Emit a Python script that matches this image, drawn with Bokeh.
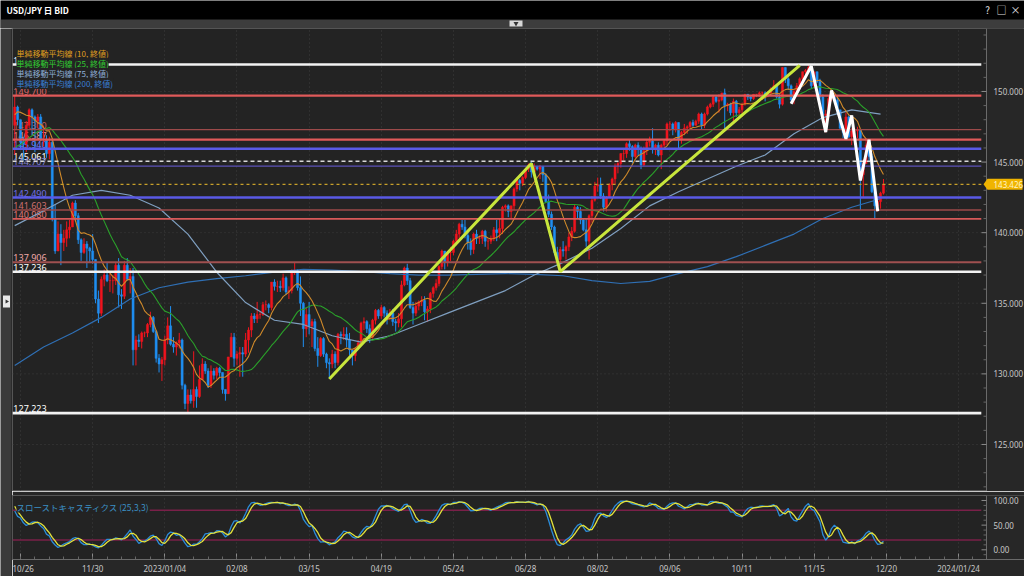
import numpy as np
import pandas as pd
from bokeh.plotting import figure
from bokeh.models import (ColumnDataSource, Range1d, FixedTicker, Label, Grid)
from bokeh.layouts import column, row
from bokeh.embed import file_html
from bokeh.resources import INLINE
from bokeh.core.properties import value

# ---------------- data ----------------
FIRST_DAY = "2022-10-24"
LAST_DAY = "2023-12-19"

# warm-up bars for the indicators (2022-09-07 .. 2022-10-21)
pre_close = [144.0, 144.1, 142.6,
             142.8, 144.6, 143.2, 143.5, 142.9,
             143.2, 143.7, 144.1, 142.4, 143.3,
             144.7, 144.8, 144.2, 144.4, 144.7,
             144.8, 144.1, 144.6, 145.1, 145.3,
             145.7, 145.8, 146.9, 147.2, 148.7,
             149.0, 149.3, 149.9, 150.2, 147.6]
pre_high = [145.0, 144.5, 144.2,
            143.1, 144.9, 144.6, 143.9, 143.6,
            143.6, 143.9, 144.7, 145.9, 143.5,
            144.8, 144.9, 144.9, 144.6, 144.8,
            145.0, 145.0, 144.8, 145.4, 145.4,
            145.9, 146.0, 146.9, 147.7, 148.9,
            149.1, 149.4, 150.0, 150.3, 151.9]
pre_low = [143.4, 143.6, 142.0,
           141.5, 142.6, 142.6, 143.1, 142.6,
           142.7, 143.1, 143.7, 140.3, 141.7,
           143.3, 144.1, 143.9, 143.9, 144.3,
           144.4, 143.5, 143.9, 144.5, 144.8,
           145.2, 145.5, 145.8, 146.2, 147.1,
           148.4, 148.8, 149.1, 149.8, 146.2]

# daily bars, one row per week (Mon..Fri), 2022-10-24 .. 2023-12-19
close = [
    148.9, 148.0, 146.4, 146.3, 147.6,
    148.7, 148.2, 147.9, 148.2, 146.6,
    146.6, 145.6, 146.4, 141.0, 138.7,
    139.9, 139.3, 139.6, 140.2, 140.4,
    142.1, 141.2, 139.5, 138.6, 139.2,
    138.9, 138.7, 138.1, 135.3, 134.3,
    136.7, 137.0, 136.6, 136.6, 136.6,
    137.7, 135.6, 135.5, 137.7, 136.7,
    136.9, 131.7, 132.4, 132.3, 132.9,
    132.9, 133.5, 134.0, 133.0, 131.1,
    130.7, 131.0, 132.4, 133.4, 132.1,
    131.9, 132.2, 132.4, 129.2, 127.9,
    128.5, 128.1, 128.9, 128.4, 129.6,
    130.7, 130.2, 129.2, 130.2, 129.9,
    130.4, 130.1, 128.9, 128.6, 131.2,
    132.6, 131.1, 131.4, 131.5, 131.4,
    132.4, 133.1, 134.1, 133.9, 134.2,
    134.2, 134.9, 134.9, 134.7, 136.5,
    136.2, 136.2, 136.1, 136.8, 135.8,
    135.9, 137.2, 137.3, 136.1, 135.0,
    133.2, 134.2, 133.4, 133.7, 131.8,
    131.3, 132.5, 131.4, 130.8, 130.7,
    131.4, 130.8, 132.8, 132.7, 132.8,
    132.4, 131.7, 131.3, 131.8, 132.2,
    133.6, 133.7, 133.2, 132.6, 133.8,
    134.5, 134.1, 134.7, 134.3, 134.1,
    134.3, 133.7, 133.6, 133.9, 136.3,
    137.5, 136.6, 134.7, 134.3, 134.8,
    135.1, 135.2, 134.4, 134.6, 135.7,
    136.1, 136.4, 137.6, 138.7, 137.9,
    138.6, 138.6, 139.4, 139.9, 140.6,
    140.4, 139.8, 139.3, 138.8, 139.9,
    139.6, 139.6, 140.1, 139.4, 139.4,
    139.6, 140.2, 140.0, 140.3, 141.8,
    141.9, 141.5, 141.9, 143.1, 143.7,
    143.5, 143.9, 144.5, 144.8, 144.3,
    144.7, 144.5, 144.7, 144.1, 142.2,
    141.3, 140.4, 138.6, 138.1, 138.8,
    138.7, 139.0, 139.7, 140.1, 141.8,
    141.5, 140.9, 140.2, 139.4, 141.2,
    142.3, 143.3, 143.4, 142.6, 141.8,
    142.5, 143.4, 143.8, 144.7, 144.9,
    145.6, 145.6, 146.3, 146.1, 145.4,
    146.2, 145.9, 144.8, 145.8, 146.4,
    146.5, 145.9, 146.2, 145.5, 146.2,
    146.5, 147.7, 147.7, 147.3, 147.8,
    146.6, 147.1, 147.4, 147.5, 147.8,
    147.6, 147.9, 148.4, 147.6, 148.4,
    148.9, 149.1, 149.6, 149.3, 149.4,
    149.9, 149.0, 149.1, 148.5, 149.3,
    148.5, 148.7, 149.1, 149.8, 149.6,
    149.5, 149.8, 149.8, 149.9, 149.9,
    149.7, 149.9, 150.2, 150.4, 149.6,
    149.1, 151.7, 150.9, 150.4, 149.4,
    150.0, 150.4, 150.9, 151.4, 151.5,
    151.7, 150.4, 151.4, 150.7, 149.6,
    148.3, 148.4, 149.5, 149.6, 149.4,
    148.7, 147.4, 147.1, 148.2, 146.8,
    147.2, 147.2, 147.3, 144.1, 144.9,
    146.2, 145.4, 142.9, 141.9, 142.2,
    142.8, 143.426]
high = [
    149.7, 149.0, 148.0, 146.8, 147.9,
    148.8, 148.8, 148.3, 148.4, 148.4,
    147.6, 146.9, 146.8, 146.6, 142.0,
    140.8, 140.6, 140.2, 140.8, 140.9,
    142.2, 142.3, 141.4, 139.6, 139.6,
    139.4, 139.0, 139.9, 138.1, 135.9,
    136.9, 137.4, 137.9, 137.1, 137.0,
    137.9, 138.2, 136.0, 138.0, 138.2,
    137.5, 137.5, 132.7, 132.8, 133.0,
    133.0, 133.6, 134.4, 134.1, 133.1,
    131.4, 131.2, 132.7, 134.0, 134.8,
    132.6, 132.3, 132.9, 132.5, 129.3,
    128.9, 128.9, 131.6, 129.1, 130.6,
    131.1, 130.9, 130.4, 130.6, 130.4,
    130.5, 130.5, 130.1, 128.9, 131.2,
    132.9, 132.9, 131.6, 131.9, 131.9,
    132.9, 133.3, 134.3, 134.3, 135.1,
    134.4, 135.1, 135.2, 135.0, 136.5,
    136.7, 136.6, 136.6, 137.1, 136.9,
    136.2, 137.4, 137.9, 137.4, 136.9,
    135.1, 134.7, 135.1, 133.9, 133.9,
    132.6, 132.6, 132.6, 131.5, 131.1,
    131.7, 131.6, 132.9, 133.0, 133.3,
    133.3, 132.9, 131.7, 131.9, 132.4,
    133.7, 134.0, 133.8, 133.5, 133.9,
    134.6, 134.6, 134.9, 134.8, 134.5,
    134.6, 134.6, 133.9, 134.3, 136.6,
    137.6, 137.8, 136.8, 135.1, 135.1,
    135.2, 135.5, 135.5, 134.8, 135.8,
    136.2, 136.7, 137.7, 138.8, 138.7,
    138.7, 139.0, 139.5, 140.2, 140.7,
    140.9, 140.9, 140.1, 139.6, 140.0,
    140.2, 139.8, 140.2, 140.2, 139.6,
    139.8, 140.4, 140.9, 141.0, 141.9,
    142.0, 142.0, 141.9, 143.2, 143.9,
    143.8, 144.0, 144.6, 144.9, 145.1,
    144.9, 144.7, 144.8, 144.7, 144.2,
    142.7, 141.5, 140.5, 139.0, 139.0,
    139.4, 139.1, 140.0, 140.4, 142.0,
    141.9, 141.8, 141.0, 141.0, 141.3,
    142.6, 143.6, 143.9, 143.9, 142.8,
    142.6, 143.5, 143.9, 144.9, 145.0,
    145.6, 145.9, 146.4, 146.6, 146.2,
    146.3, 146.4, 146.1, 146.1, 146.6,
    146.8, 147.4, 146.3, 146.4, 146.3,
    146.6, 147.8, 147.9, 147.8, 147.9,
    147.0, 147.2, 147.7, 147.6, 147.9,
    148.0, 148.0, 148.5, 148.5, 148.5,
    149.0, 149.2, 149.7, 149.7, 149.8,
    149.9, 150.2, 149.2, 149.2, 149.5,
    149.4, 148.9, 149.2, 149.8, 149.8,
    149.7, 149.8, 149.8, 150.0, 150.0,
    150.0, 150.0, 150.3, 150.8, 150.5,
    149.8, 151.7, 151.7, 151.0, 150.5,
    150.2, 150.6, 151.0, 151.4, 151.6,
    151.9, 151.8, 151.4, 151.4, 150.9,
    149.8, 148.7, 149.7, 149.8, 149.7,
    149.7, 148.7, 147.6, 148.5, 148.3,
    147.4, 147.4, 147.5, 147.3, 145.2,
    146.6, 146.2, 145.6, 143.0, 142.5,
    142.9, 143.8]
low = [
    145.5, 147.6, 145.9, 145.1, 145.7,
    147.4, 146.9, 145.7, 147.4, 146.5,
    146.1, 145.3, 145.2, 140.8, 138.5,
    138.8, 137.7, 138.7, 139.0, 139.6,
    140.4, 140.8, 139.2, 138.0, 138.5,
    137.5, 137.9, 137.8, 135.0, 133.6,
    134.1, 136.2, 136.5, 135.8, 135.7,
    136.3, 134.7, 134.6, 135.3, 136.6,
    135.7, 130.6, 130.6, 131.9, 131.8,
    132.6, 132.6, 133.3, 132.9, 130.8,
    130.1, 129.5, 130.6, 132.1, 132.0,
    131.5, 131.3, 131.8, 128.9, 127.5,
    127.22, 127.9, 127.6, 127.6, 128.3,
    129.7, 130.0, 129.0, 129.0, 129.6,
    129.6, 129.8, 128.6, 128.1, 128.6,
    131.2, 130.5, 130.6, 129.8, 129.8,
    131.2, 131.5, 132.6, 133.6, 133.6,
    133.9, 134.1, 134.5, 134.3, 134.5,
    135.9, 135.8, 135.8, 135.9, 135.6,
    135.3, 135.7, 137.0, 135.9, 134.1,
    131.9, 132.6, 132.8, 131.9, 131.6,
    130.5, 131.2, 131.2, 130.4, 129.64,
    130.4, 130.4, 130.6, 132.1, 132.4,
    131.9, 131.3, 130.6, 130.9, 131.7,
    132.1, 133.1, 132.9, 132.2, 132.5,
    133.5, 133.9, 133.9, 134.0, 133.5,
    133.8, 133.4, 133.0, 133.3, 133.3,
    136.2, 136.3, 134.6, 133.5, 134.1,
    134.5, 134.8, 133.8, 133.7, 134.3,
    135.4, 135.9, 136.2, 137.4, 137.4,
    137.6, 138.0, 138.4, 139.1, 139.6,
    140.2, 139.6, 138.8, 138.4, 138.5,
    139.2, 139.2, 139.2, 139.0, 138.8,
    139.2, 139.4, 139.4, 139.6, 139.9,
    141.5, 141.1, 141.0, 141.6, 142.9,
    143.0, 143.3, 143.8, 144.3, 143.9,
    144.2, 144.4, 143.8, 143.6, 142.1,
    141.1, 140.2, 138.4, 137.9, 137.24,
    138.3, 138.1, 138.7, 139.4, 140.0,
    141.0, 140.6, 140.1, 139.0, 138.1,
    140.7, 142.2, 142.9, 142.4, 141.5,
    141.5, 142.5, 143.0, 143.4, 144.2,
    144.6, 145.1, 145.3, 145.8, 144.9,
    145.3, 145.5, 144.5, 144.7, 145.5,
    146.1, 145.6, 145.5, 145.4, 144.5,
    146.0, 146.2, 147.2, 146.9, 147.1,
    145.9, 146.3, 146.9, 147.0, 147.3,
    147.5, 147.6, 147.7, 147.3, 147.4,
    148.3, 148.8, 148.9, 149.2, 148.5,
    149.3, 147.3, 148.6, 148.3, 147.9,
    148.2, 148.3, 148.2, 149.0, 149.4,
    149.3, 149.4, 149.6, 149.6, 149.6,
    149.3, 149.6, 149.8, 150.1, 149.5,
    148.8, 149.0, 150.6, 150.1, 149.2,
    149.1, 149.9, 150.2, 150.8, 151.1,
    151.3, 150.2, 150.2, 150.6, 149.2,
    148.1, 147.1, 148.1, 149.3, 149.3,
    148.4, 147.3, 146.7, 146.7, 146.7,
    146.2, 146.6, 146.7, 141.6, 142.5,
    144.9, 145.0, 142.8, 140.97, 141.5,
    141.7, 142.7]

# 75- and 200-day moving averages (weekly samples)
ma_sample_dates = ["2022-10-24", "2022-11-07", "2022-11-21", "2022-12-05", "2022-12-19",
                   "2023-01-02", "2023-01-16", "2023-01-30", "2023-02-13", "2023-02-27",
                   "2023-03-13", "2023-03-27", "2023-04-10", "2023-04-24", "2023-05-08",
                   "2023-05-22", "2023-06-05", "2023-06-19", "2023-07-03", "2023-07-17",
                   "2023-07-31", "2023-08-14", "2023-08-28", "2023-09-11", "2023-09-25",
                   "2023-10-09", "2023-10-23", "2023-11-06", "2023-11-20", "2023-12-04",
                   "2023-12-18"]
ma75_samples = [140.5, 141.55, 142.65, 143.0, 142.65, 141.75, 139.9, 137.2, 135.05, 133.8,
                133.5, 132.7, 132.25, 132.7, 133.5, 134.3, 135.1, 135.9, 137.0, 137.9,
                138.9, 140.3, 141.9, 142.9, 143.8, 144.7, 145.5, 147.0, 148.15, 148.7, 148.4]
ma200_samples = [130.6, 131.9, 132.9, 134.0, 135.3, 136.1, 136.5, 136.75, 136.95, 137.2,
                 137.4, 137.35, 137.25, 137.1, 137.0, 137.0, 137.05, 137.1, 137.05, 136.95,
                 136.6, 136.4, 136.55, 137.1, 137.6, 138.3, 139.1, 139.9, 141.0, 141.8, 142.4]

# horizontal price lines and their labels
levels = [151.908, 149.700, 147.300, 146.587, 145.940, 145.061, 144.707,
          143.426, 142.490, 141.603, 140.980, 137.906, 137.236, 127.223]
current_price = 143.426

# hand-drawn trend lines
trend_dates = ["2023-03-24", "2023-06-30", "2023-07-14", "2023-11-08"]
trend_prices = [129.64, 144.9, 137.24, 151.85]
zig_dates = ["2023-11-03", "2023-11-14", "2023-11-21", "2023-11-23", "2023-11-30",
             "2023-12-04", "2023-12-07", "2023-12-12", "2023-12-15"]
zig_prices = [149.13, 151.8, 147.12, 150.07, 146.65, 148.3, 143.7, 146.58, 141.52]

# axis ticks and labels
price_ticks = [125, 130, 135, 140, 145, 150]
stoch_ticks = [0, 50, 100]
stoch_levels = [80, 20]
tick_dates = ["2022-10-26", "2022-11-30", "2023-01-04", "2023-02-08", "2023-03-15", "2023-04-19",
              "2023-05-24", "2023-06-28", "2023-08-02", "2023-09-06", "2023-10-11", "2023-11-15",
              "2023-12-20", "2024-01-24"]
tick_labels = ["10/26", "11/30", "2023/01/04", "02/08", "03/15", "04/19", "05/24", "06/28",
               "08/02", "09/06", "10/11", "11/15", "12/20", "2024/01/24"]

legend_texts = ["単純移動平均線 (10, 終値)", "単純移動平均線 (25, 終値)",
                "単純移動平均線 (75, 終値)", "単純移動平均線 (200, 終値)"]

# ---------------- derived ----------------
n = len(close)
assert len(high) == n and len(low) == n
cal = pd.bdate_range(FIRST_DAY, "2024-02-29")
pos = {d.strftime("%Y-%m-%d"): i for i, d in enumerate(cal)}
assert pos[LAST_DAY] == n - 1

npre = len(pre_close)
all_c = np.array(pre_close + close, dtype=float)
all_h = np.array(pre_high + high, dtype=float)
all_l = np.array(pre_low + low, dtype=float)
all_o = np.concatenate([[all_c[0]], all_c[:-1]])

x = np.arange(n)
o = all_o[npre:]
c = np.array(close, dtype=float)
h = np.maximum(np.array(high, dtype=float), np.maximum(o, c))
l = np.minimum(np.array(low, dtype=float), np.minimum(o, c))


def sma(a, k):
    out = np.full(len(a), np.nan)
    for i in range(k - 1, len(a)):
        out[i] = a[i - k + 1:i + 1].mean()
    return out


ma10 = sma(all_c, 10)[npre:]
ma25 = sma(all_c, 25)[npre:]

fastk = np.full(len(all_c), np.nan)
for i in range(24, len(all_c)):
    hh = all_h[i - 24:i + 1].max()
    ll = all_l[i - 24:i + 1].min()
    fastk[i] = 100.0 * (all_c[i] - ll) / (hh - ll)
slowk = sma(fastk, 3)
slowd = sma(slowk, 3)
stoch_k = slowk[npre:]
stoch_d = slowd[npre:]

ma_x = [pos[d] for d in ma_sample_dates]
trend_x = [pos[d] for d in trend_dates]
zig_x = [pos[d] for d in zig_dates]
tick_idx = [pos[d] for d in tick_dates]

# ---------------- styling / geometry ----------------
BG = "#232323"
BORDER = "#272727"
GRID = "#3e3e3e"
AXIS_C = "#6a6a6a"
TICK_LBL = "#c8c8c8"
UP = "#f0141e"
DN = "#1f8ef1"
NUM_FONT = "Noto Sans"
JP_FONT = "Noto Sans CJK JP"
FRAME_W = 1012                     # frame runs to the right edge; axis area drawn inside it
X0, AXIS_X = -0.77, 336.7          # left edge and the price-axis line (bar units)
PX = 974.0 / (AXIS_X - X0)         # pixels per bar
XR = X0 + FRAME_W / PX
LINE_END = 334.9
MAIN_H = 463
STOCH_H = 64
PY0, PY1 = 121.67, 154.46
SY0, SY1 = -19.7, 110.1

level_line_colors = ["#f2f2f2", "#e05a5a", "#9c4a4a", "#e05a5a", "#5a5ae6", "#d8d8d8", "#5c52b8",
                     "#c8a02a", "#5a5ae6", "#9c4a4a", "#d85a5a", "#a05050", "#f2f2f2", "#f2f2f2"]
level_line_widths = [2.6, 2.2, 1.4, 2.2, 2.6, 1.6, 1.3, 1.2, 2.4, 1.4, 1.8, 2.0, 2.6, 2.6]
level_line_dash = ["solid", "solid", "solid", "solid", "solid", "4 3", "solid",
                   "3 3", "solid", "solid", "solid", "solid", "solid", "solid"]
level_label_colors = ["#ffffff", "#e06666", "#c86464", "#e89090", "#7b7bff", "#ffffff", "#8080d0",
                      None, "#7070e8", "#d07070", "#e07878", "#f0a8a8", "#ffffff", "#ffffff"]


def hide_default_grids(fig):
    for g in fig.grid:
        g.visible = False


def draw_value_axis(fig, y0, y1, majors, minor_step, fmt):
    """price-scale style axis drawn at AXIS_X inside the figure's frame"""
    fig.quad(left=[AXIS_X], right=[XR], bottom=[y0], top=[y1], fill_color=BORDER, line_color=None)
    fig.segment(x0=[AXIS_X], y0=[y0], x1=[AXIS_X], y1=[y1], line_color=AXIS_C, line_width=1)
    minors = [v for v in np.arange(np.ceil(y0 / minor_step) * minor_step, y1, minor_step)
              if all(abs(v - m) > 1e-6 for m in majors)]
    fig.segment(x0=[AXIS_X - 3 / PX] * len(minors), y0=minors, x1=[AXIS_X] * len(minors), y1=minors,
                line_color="#666666", line_width=1)
    fig.segment(x0=[AXIS_X - 5 / PX] * len(majors), y0=majors, x1=[AXIS_X] * len(majors), y1=majors,
                line_color="#8a8a8a", line_width=1)
    fig.text(x=[AXIS_X + 7 / PX] * len(majors), y=majors, text=[fmt.format(v) for v in majors],
             text_color=TICK_LBL, text_font=value(NUM_FONT), text_font_size="8px",
             text_baseline="middle")


# ---------------- title bar ----------------
top = figure(width=1024, height=28, x_range=Range1d(0, 1024), y_range=Range1d(0, 28),
             x_axis_type=None, y_axis_type=None, toolbar_location=None, output_backend="svg",
             min_border=0, outline_line_color=None, background_fill_color="#000000",
             border_fill_color="#000000")
hide_default_grids(top)
top.quad(left=[0], right=[1024], bottom=[0], top=[9], fill_color="#3d3d3d", line_color=None)
top.quad(left=[509], right=[522], bottom=[2], top=[8], fill_color="#d8d8d8", line_color=None)
top.scatter(x=[515.5], y=[5], marker="inverted_triangle", size=5, fill_color="#333333", line_color=None)
top.text(x=[6], y=[19], text=["USD/JPY 日 BID"], text_color="#ffffff", text_font=value(JP_FONT),
         text_font_size="8.5px", text_font_style="bold", text_baseline="middle")
top.text(x=[987, 1001, 1015], y=[19, 19, 19], text=["?", "□", "×"], text_color="#e0e0e0",
         text_font=value(JP_FONT), text_font_size="10px", text_align="center", text_baseline="middle")

# ---------------- left strip ----------------
strip = figure(width=12, height=548, x_range=Range1d(0, 12), y_range=Range1d(0, 548),
               x_axis_type=None, y_axis_type=None, toolbar_location=None, output_backend="svg",
               min_border=0, outline_line_color=None, background_fill_color="#3a3a3a",
               border_fill_color="#3a3a3a")
hide_default_grids(strip)
strip.segment(x0=[11.5], y0=[0], x1=[11.5], y1=[548], line_color="#1c1c1c", line_width=1)
strip.quad(left=[2.5], right=[9.5], bottom=[269], top=[281], fill_color="#e8e8e8", line_color=None)
strip.scatter(x=[6.2], y=[275], marker="triangle", angle=-np.pi / 2, size=4,
              fill_color="#333333", line_color=None)

# ---------------- main price chart ----------------
xr = Range1d(X0, XR)
p = figure(frame_width=FRAME_W, frame_height=MAIN_H, x_range=xr, y_range=Range1d(PY0, PY1),
           output_backend="svg", toolbar_location=None, x_axis_location=None, y_axis_location=None,
           min_border=0, background_fill_color=BG, border_fill_color=BORDER,
           outline_line_color="#555555")
hide_default_grids(p)
p.add_layout(Grid(dimension=0, ticker=FixedTicker(ticks=tick_idx),
                  grid_line_color=GRID, grid_line_dash="1 3"))
p.segment(x0=[X0] * len(price_ticks), y0=price_ticks, x1=[AXIS_X] * len(price_ticks), y1=price_ticks,
          line_color=GRID, line_dash="1 3", line_width=1)
draw_value_axis(p, PY0, PY1, price_ticks, 1.0, "{:.3f}")

# level labels (behind candles)
lab_idx = [i for i, col in enumerate(level_label_colors) if col is not None]
p.text(x=[X0 + 0.3] * len(lab_idx), y=[levels[i] for i in lab_idx],
       text=[f"{levels[i]:.3f}" for i in lab_idx],
       text_color=[level_label_colors[i] for i in lab_idx],
       text_font=value(NUM_FONT), text_font_size="9px", text_baseline="bottom", y_offset=-1)

# candles
csrc = ColumnDataSource(dict(x=x, top=np.maximum(o, c), bottom=np.minimum(o, c), h=h, l=l,
                             color=np.where(c >= o, UP, DN)))
p.segment(x0="x", y0="h", x1="x", y1="l", line_color="color", line_width=1, source=csrc)
p.vbar(x="x", width=0.72, top="top", bottom="bottom", fill_color="color", line_color="color",
       line_width=0.5, source=csrc)

# moving averages
p.line(ma_x, ma200_samples, line_color="#2f6fb4", line_width=1.2)
p.line(ma_x, ma75_samples, line_color="#7f9fc0", line_width=1.2)
p.line(x, ma25, line_color="#2aa02a", line_width=1.1)
p.line(x, ma10, line_color="#d08a2a", line_width=1.1)

# horizontal lines
for lv, col, lw, dash in zip(levels, level_line_colors, level_line_widths, level_line_dash):
    p.segment(x0=[X0], y0=[lv], x1=[LINE_END], y1=[lv], line_color=col, line_width=lw,
              line_dash=dash)

# trend lines
p.line(trend_x, trend_prices, line_color="#c8e63c", line_width=3)
p.line(zig_x, zig_prices, line_color="#ffffff", line_width=3)

# current price tag on the price scale
th = 5.5 / (MAIN_H / (PY1 - PY0))
p.patch(x=[AXIS_X - 3 / PX, AXIS_X + 1 / PX, XR - 2 / PX, XR - 2 / PX, AXIS_X + 1 / PX],
        y=[current_price, current_price + th, current_price + th, current_price - th,
           current_price - th], fill_color="#f0b400", line_color=None)
p.text(x=[AXIS_X + 7 / PX], y=[current_price], text=[f"{current_price:.3f}"], text_color="#fff4c8",
       text_font=value(NUM_FONT), text_font_size="8px", text_baseline="middle")

# legend texts
leg_colors = ["#e0a020", "#32cd32", "#8fb0d8", "#3a7fd5"]
for k, (t, col) in enumerate(zip(legend_texts, leg_colors)):
    p.add_layout(Label(x=4, y=MAIN_H - 24.5 - 10.2 * k, x_units="screen", y_units="screen", text=t,
                       text_color=col, text_font=JP_FONT, text_font_size="8px",
                       text_baseline="middle", background_fill_color=BG,
                       background_fill_alpha=1.0))

# ---------------- stochastic panel ----------------
s = figure(frame_width=FRAME_W, frame_height=STOCH_H, x_range=xr, y_range=Range1d(SY0, SY1),
           output_backend="svg", toolbar_location=None, y_axis_location=None,
           min_border_left=0, min_border_right=0, min_border_top=4, min_border_bottom=17,
           background_fill_color=BG, border_fill_color=BORDER, outline_line_color="#555555")
hide_default_grids(s)
sx = s.xaxis[0]
sx.ticker = FixedTicker(ticks=tick_idx, minor_ticks=list(range(tick_idx[0] - 5, tick_idx[-1] + 6, 5)))
sx.major_label_overrides = {t: lab for t, lab in zip(tick_idx, tick_labels)}
sx.major_label_text_font = NUM_FONT
sx.major_label_text_font_size = "8px"
sx.major_label_text_color = TICK_LBL
sx.axis_line_color = AXIS_C
sx.major_tick_line_color = "#8a8a8a"
sx.minor_tick_line_color = "#666666"
sx.major_tick_in = 6
sx.major_tick_out = 0
sx.minor_tick_in = 3
sx.minor_tick_out = 0
sx.major_label_standoff = 3
s.add_layout(Grid(dimension=0, ticker=FixedTicker(ticks=tick_idx),
                  grid_line_color=GRID, grid_line_dash="1 3"))
draw_value_axis(s, SY0, SY1, stoch_ticks, 10.0, "{:.2f}")

s.segment(x0=[X0] * len(stoch_levels), y0=stoch_levels, x1=[LINE_END] * len(stoch_levels),
          y1=stoch_levels, line_color="#7a2049", line_width=1.5)
s.line(x, stoch_k, line_color="#2b8cd9", line_width=1.3)
s.line(x, stoch_d, line_color="#e2e23c", line_width=1.3)
s.add_layout(Label(x=4, y=STOCH_H - 11, x_units="screen", y_units="screen",
                   text="スローストキャスティクス (25,3,3)",
                   text_color="#3b8fc4", text_font=JP_FONT, text_font_size="8.5px",
                   text_baseline="middle", background_fill_color=BG, background_fill_alpha=1.0))

layout = column(top, row(strip, column(p, s)))
open("out.html", "w").write(file_html(layout, INLINE, title="USD/JPY"))
